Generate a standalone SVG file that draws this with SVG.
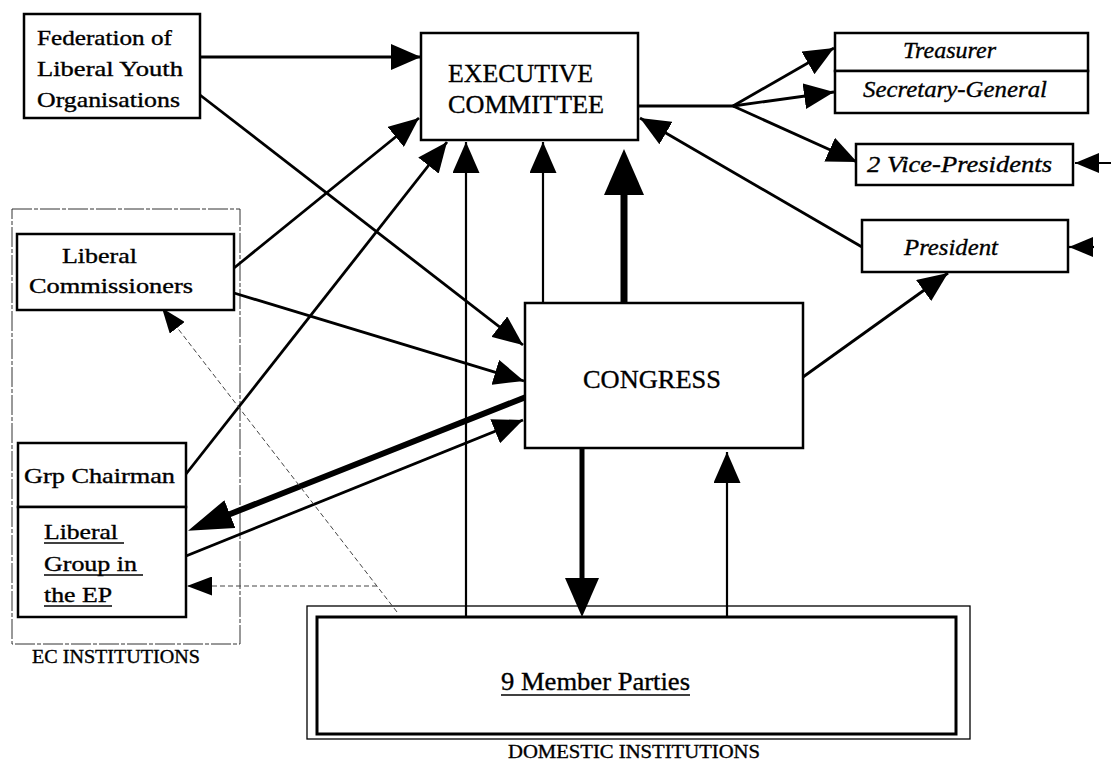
<svg xmlns="http://www.w3.org/2000/svg" width="1111" height="760" viewBox="0 0 1111 760">
  <style>
    .box { fill: #fff; stroke: #000; stroke-width: 2.5; }
    .frame { fill: none; stroke: #333; stroke-width: 1; stroke-dasharray: 20 2 4 2; }
    .c { fill: none; stroke: #000; stroke-width: 2.8; }
    .thin { fill: none; stroke: #000; stroke-width: 2.2; }
    .dot { fill: none; stroke: #444; stroke-width: 1; stroke-dasharray: 5 3; }
    text { font-family: "Liberation Serif", "Times New Roman", serif; fill: #000; stroke: #000; stroke-width: 0.35; }
    .lbl { font-size: 21px; }
    .big { font-size: 26px; }
    .it { font-size: 24px; font-style: italic; }
    .cap { font-size: 19px; }
    .ul { stroke: #000; stroke-width: 1.6; }
  </style>
  <defs>
    <marker id="ah" markerUnits="userSpaceOnUse" viewBox="0 0 30 26" markerWidth="30" markerHeight="26" refX="30" refY="13" orient="auto">
      <path d="M0,0 L30,13 L0,26 Z" fill="#000"/>
    </marker>
    <marker id="ahv" markerUnits="userSpaceOnUse" viewBox="0 0 31 27" markerWidth="31" markerHeight="27" refX="31" refY="13.5" orient="auto">
      <path d="M0,0 L31,13.5 L0,27 Z" fill="#000"/>
    </marker>
    <marker id="ahs" markerUnits="userSpaceOnUse" viewBox="0 0 24 20" markerWidth="24" markerHeight="20" refX="24" refY="10" orient="auto">
      <path d="M0,0 L24,10 L0,20 Z" fill="#000"/>
    </marker>
    <marker id="ahd" markerUnits="userSpaceOnUse" viewBox="0 0 25 19" markerWidth="25" markerHeight="19" refX="25" refY="9.5" orient="auto">
      <path d="M0,0 L25,9.5 L0,19 Z" fill="#000"/>
    </marker>
    <!-- heads for the heavy lines: the line stops at the base of the head -->
    <marker id="hvUp" markerUnits="userSpaceOnUse" viewBox="0 0 46 40" markerWidth="46" markerHeight="40" refX="1" refY="20" orient="auto">
      <path d="M0,0 L46,20 L0,40 Z" fill="#000"/>
    </marker>
    <marker id="hvDn" markerUnits="userSpaceOnUse" viewBox="0 0 39 34" markerWidth="39" markerHeight="34" refX="1" refY="17" orient="auto">
      <path d="M0,0 L39,17 L0,34 Z" fill="#000"/>
    </marker>
    <marker id="hvDiag" markerUnits="userSpaceOnUse" viewBox="0 0 45 30" markerWidth="45" markerHeight="30" refX="1" refY="15" orient="auto">
      <path d="M0,0 L45,15 L0,30 Z" fill="#000"/>
    </marker>
  </defs>

  <rect width="1111" height="760" fill="#fff"/>

  <!-- grouping frames -->
  <g id="ec-institutions">
    <rect class="frame" x="12" y="209" width="228" height="435"/>
    <text class="cap" x="32" y="663" textLength="168" lengthAdjust="spacingAndGlyphs">EC INSTITUTIONS</text>
  </g>

  <g id="member-parties">
    <rect x="307" y="606" width="663" height="133" fill="#fff" stroke="#000" stroke-width="1.3"/>
    <rect x="317" y="617" width="639" height="117" fill="#fff" stroke="#000" stroke-width="3"/>
    <text class="big" x="501" y="690" textLength="189" lengthAdjust="spacingAndGlyphs">9 Member Parties</text>
    <line class="ul" x1="501" y1="695" x2="690" y2="695"/>
    <text class="cap" x="508" y="758" textLength="252" lengthAdjust="spacingAndGlyphs">DOMESTIC INSTITUTIONS</text>
  </g>

  <!-- connectors -->
  <g id="connectors">
    <line class="c" x1="200" y1="57" x2="421" y2="57" marker-end="url(#ah)"/>
    <line class="c" x1="200" y1="95" x2="523" y2="345" marker-end="url(#ah)"/>
    <line class="c" x1="234" y1="268" x2="419" y2="118" marker-end="url(#ah)"/>
    <line class="c" x1="234" y1="293" x2="524" y2="381" marker-end="url(#ah)"/>
    <line class="c" x1="186" y1="474" x2="447" y2="142" marker-end="url(#ah)"/>
    <line class="c" x1="186" y1="556" x2="523" y2="420" marker-end="url(#ah)"/>
    <line class="c" x1="862" y1="247" x2="640" y2="118" marker-end="url(#ah)"/>
    <line class="c" x1="803" y1="377" x2="948" y2="273" marker-end="url(#ah)"/>

    <!-- executive committee to its officers -->
    <line class="c" x1="638" y1="106" x2="734" y2="106"/>
    <line class="c" x1="733" y1="106" x2="834" y2="48" marker-end="url(#ah)"/>
    <line class="c" x1="733" y1="106" x2="834" y2="92" marker-end="url(#ah)"/>
    <line class="c" x1="733" y1="106" x2="857" y2="162" marker-end="url(#ah)"/>

    <!-- outside inputs on the right -->
    <line class="thin" x1="1111" y1="163" x2="1075" y2="163" marker-end="url(#ahs)"/>
    <line class="thin" x1="1094" y1="247" x2="1069" y2="247" marker-end="url(#ahs)"/>

    <!-- vertical links -->
    <line class="thin" x1="466" y1="617" x2="466" y2="142" marker-end="url(#ahv)"/>
    <line class="thin" x1="543" y1="303" x2="543" y2="142" marker-end="url(#ahv)"/>
    <line class="thin" x1="727" y1="617" x2="727" y2="452" marker-end="url(#ahv)"/>
    <line fill="none" stroke="#000" stroke-width="7" x1="624" y1="303" x2="624" y2="194" marker-end="url(#hvUp)"/>
    <line fill="none" stroke="#000" stroke-width="5" x1="582" y1="448" x2="582" y2="579" marker-end="url(#hvDn)"/>

    <!-- congress to the liberal group, heavy -->
    <line fill="none" stroke="#000" stroke-width="6" stroke-linecap="round" x1="526" y1="397" x2="229" y2="514.5" marker-end="url(#hvDiag)"/>

    <!-- dotted links from the member parties -->
    <line class="dot" x1="397" y1="612" x2="162" y2="308" marker-end="url(#ahd)"/>
    <line class="dot" x1="377" y1="586" x2="187" y2="586" marker-end="url(#ahd)"/>
  </g>

  <!-- nodes -->
  <g id="federation">
    <rect class="box" x="24" y="14" width="176" height="104" stroke-width="2"/>
    <text class="lbl" x="37" y="45" textLength="135" lengthAdjust="spacingAndGlyphs">Federation of</text>
    <text class="lbl" x="37" y="76" textLength="146" lengthAdjust="spacingAndGlyphs">Liberal Youth</text>
    <text class="lbl" x="37" y="107" textLength="143" lengthAdjust="spacingAndGlyphs">Organisations</text>
  </g>

  <g id="executive-committee">
    <rect class="box" x="421" y="33" width="217" height="107"/>
    <text class="big" x="448" y="82" textLength="145" lengthAdjust="spacingAndGlyphs">EXECUTIVE</text>
    <text class="big" x="448" y="113" textLength="156" lengthAdjust="spacingAndGlyphs">COMMITTEE</text>
  </g>

  <g id="treasurer">
    <rect class="box" x="835" y="33" width="253" height="38" stroke-width="2"/>
    <text class="it" x="903" y="58" textLength="93" lengthAdjust="spacingAndGlyphs">Treasurer</text>
  </g>

  <g id="secretary-general">
    <rect class="box" x="835" y="71" width="253" height="42" stroke-width="2"/>
    <text class="it" x="863" y="97" textLength="184" lengthAdjust="spacingAndGlyphs">Secretary-General</text>
  </g>

  <g id="vice-presidents">
    <rect class="box" x="856" y="144" width="217" height="41" stroke-width="2"/>
    <text class="it" x="867" y="172" textLength="185" lengthAdjust="spacingAndGlyphs">2 Vice-Presidents</text>
  </g>

  <g id="president">
    <rect class="box" x="862" y="220" width="206" height="52" stroke-width="2"/>
    <text class="it" x="904" y="255" textLength="94" lengthAdjust="spacingAndGlyphs">President</text>
  </g>

  <g id="congress">
    <rect class="box" x="525" y="303" width="278" height="145"/>
    <text class="big" x="583" y="388" textLength="138" lengthAdjust="spacingAndGlyphs">CONGRESS</text>
  </g>

  <g id="liberal-commissioners">
    <rect class="box" x="17" y="234" width="217" height="76" stroke-width="2"/>
    <text class="lbl" x="62" y="263" textLength="75" lengthAdjust="spacingAndGlyphs">Liberal</text>
    <text class="lbl" x="29" y="293" textLength="164" lengthAdjust="spacingAndGlyphs">Commissioners</text>
  </g>

  <g id="group-chairman">
    <rect class="box" x="18" y="443" width="168" height="64" stroke-width="2"/>
    <text class="lbl" x="24" y="483" textLength="151" lengthAdjust="spacingAndGlyphs">Grp Chairman</text>
  </g>

  <g id="liberal-group-ep">
    <rect class="box" x="18" y="507" width="168" height="110" stroke-width="2"/>
    <text class="lbl" x="44" y="539" textLength="74" lengthAdjust="spacingAndGlyphs">Liberal</text>
    <line class="ul" x1="44" y1="543" x2="124" y2="543"/>
    <text class="lbl" x="44" y="571" textLength="93" lengthAdjust="spacingAndGlyphs">Group in</text>
    <line class="ul" x1="44" y1="575" x2="143" y2="575"/>
    <text class="lbl" x="44" y="602" textLength="68" lengthAdjust="spacingAndGlyphs">the EP</text>
    <line class="ul" x1="44" y1="606" x2="112" y2="606"/>
  </g>
</svg>
